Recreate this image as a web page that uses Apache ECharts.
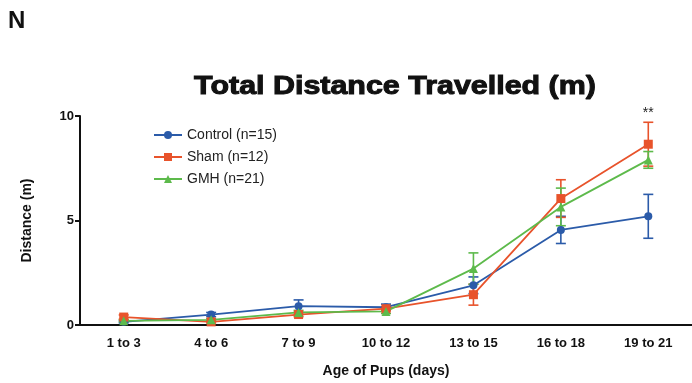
<!DOCTYPE html>
<html>
<head>
<meta charset="utf-8">
<script src="https://cdn.jsdelivr.net/npm/echarts@6/dist/echarts.min.js"></script>
<style>
  html, body { margin: 0; padding: 0; background: #fff; }
  #chart { width: 692px; height: 383px; }
</style>
</head>
<body>
<div id="chart"></div>
<script>
// Age groups (days)
const ageGroups = ['1 to 3', '4 to 6', '7 to 9', '10 to 12', '13 to 15', '16 to 18', '19 to 21'];

// Mean distance travelled (m) and SEM per group
const controlMean = [0.15, 0.5, 0.9, 0.85, 1.9, 4.55, 5.2];
const controlSem  = [0.05, 0.1, 0.3, 0.15, 0.4, 0.65, 1.05];
const shamMean    = [0.38, 0.15, 0.5, 0.78, 1.45, 6.05, 8.65];
const shamSem     = [0.1, 0.05, 0.1, 0.1, 0.5, 0.9, 1.05];
const gmhMean     = [0.2, 0.25, 0.6, 0.65, 2.7, 5.65, 7.9];
const gmhSem      = [0.05, 0.05, 0.1, 0.1, 0.75, 0.9, 0.4];

const yTicks = [0, 5, 10];

// Significance marker: group index and height (m) above the data
const sigMark = { index: 6, y: 10.15, text: '**' };

const colors = { control: '#2B5BA9', sham: '#E8532B', gmh: '#5DBA4B' };

const chart = echarts.init(document.getElementById('chart'));

function errorSeries(name, mean, sem, color) {
  return {
    name: name + ' SEM',
    type: 'custom',
    z: 1,
    silent: true,
    itemStyle: { color: color },
    data: mean.map((m, i) => [i, m - sem[i], m + sem[i]]),
    renderItem: function (params, api) {
      const lo = api.coord([api.value(0), api.value(1)]);
      const hi = api.coord([api.value(0), api.value(2)]);
      const hw = 5;
      const style = { stroke: color, lineWidth: 1.6 };
      return {
        type: 'group',
        children: [
          { type: 'line', shape: { x1: lo[0], y1: lo[1], x2: hi[0], y2: hi[1] }, style },
          { type: 'line', shape: { x1: lo[0] - hw, y1: lo[1], x2: lo[0] + hw, y2: lo[1] }, style },
          { type: 'line', shape: { x1: hi[0] - hw, y1: hi[1], x2: hi[0] + hw, y2: hi[1] }, style }
        ]
      };
    }
  };
}

function lineSeries(name, mean, color, symbol, size) {
  return {
    name: name,
    type: 'line',
    z: 2,
    data: mean,
    symbol: symbol,
    symbolSize: size,
    lineStyle: { color: color, width: 1.8 },
    itemStyle: { color: color },
    emphasis: { disabled: true }
  };
}

const font = 'Liberation Sans, Arial, sans-serif';

const titleText = {
  type: 'text',
  x: 395, y: 87,
  scaleX: 1.17,
  style: {
    text: 'Total Distance Travelled (m)',
    font: 'bold 26px ' + font,
    fill: '#111', stroke: '#111', lineWidth: 1,
    align: 'center', verticalAlign: 'middle'
  }
};

chart.setOption({
  animation: false,
  textStyle: { fontFamily: font },
  title: {
    text: 'N',
    left: 3, top: 4,
    textStyle: { fontSize: 24, fontWeight: 'bold', color: '#111', fontFamily: font }
  },
  graphic: [titleText],
  legend: {
    left: 148, top: 123,
    orient: 'vertical',
    itemGap: 8,
    itemWidth: 28, itemHeight: 10,
    textStyle: { fontSize: 14, color: '#222', fontFamily: font },
    data: ['Control (n=15)', 'Sham (n=12)', 'GMH (n=21)']
  },
  grid: { left: 80, right: -17, top: 116, bottom: 55 },
  xAxis: {
    type: 'category',
    data: ageGroups,
    boundaryGap: true,
    name: 'Age of Pups (days)',
    nameLocation: 'middle',
    nameGap: 39,
    nameTextStyle: { fontSize: 14, fontWeight: 'bold', color: '#111', fontFamily: font },
    axisLine: { lineStyle: { color: '#111', width: 2 } },
    axisTick: { alignWithLabel: true, length: 6, lineStyle: { color: '#111', width: 2 } },
    axisLabel: { fontSize: 13, fontWeight: 'bold', color: '#111', margin: 12, fontFamily: font }
  },
  yAxis: {
    type: 'value',
    min: 0, max: 10, interval: 5,
    name: 'Distance (m)',
    nameLocation: 'middle',
    nameGap: 46,
    nameRotate: 90,
    nameTextStyle: { fontSize: 14, fontWeight: 'bold', color: '#111', fontFamily: font },
    axisLine: { show: true, lineStyle: { color: '#111', width: 2 } },
    axisTick: { show: true, length: 5, lineStyle: { color: '#111', width: 2 } },
    axisLabel: {
      fontSize: 13, fontWeight: 'bold', color: '#111', margin: 6, fontFamily: font,
      formatter: v => (yTicks.includes(v) ? String(v) : '')
    },
    splitLine: { show: false }
  },
  series: [
    errorSeries('Control (n=15)', controlMean, controlSem, colors.control),
    errorSeries('Sham (n=12)', shamMean, shamSem, colors.sham),
    errorSeries('GMH (n=21)', gmhMean, gmhSem, colors.gmh),
    lineSeries('Control (n=15)', controlMean, colors.control, 'circle', 8),
    lineSeries('Sham (n=12)', shamMean, colors.sham, 'rect', 9),
    lineSeries('GMH (n=21)', gmhMean, colors.gmh, 'triangle', 9)
  ]
});

// Place the significance marker above the last age group via the axes
const sigPos = chart.convertToPixel({ gridIndex: 0 }, [sigMark.index, sigMark.y]);
chart.setOption({
  graphic: [
    titleText,
    {
      type: 'text',
      x: sigPos[0], y: sigPos[1],
      style: {
        text: sigMark.text,
        font: '14px ' + font,
        fill: '#222',
        align: 'center',
        verticalAlign: 'middle'
      }
    }
  ]
});
</script>
</body>
</html>
